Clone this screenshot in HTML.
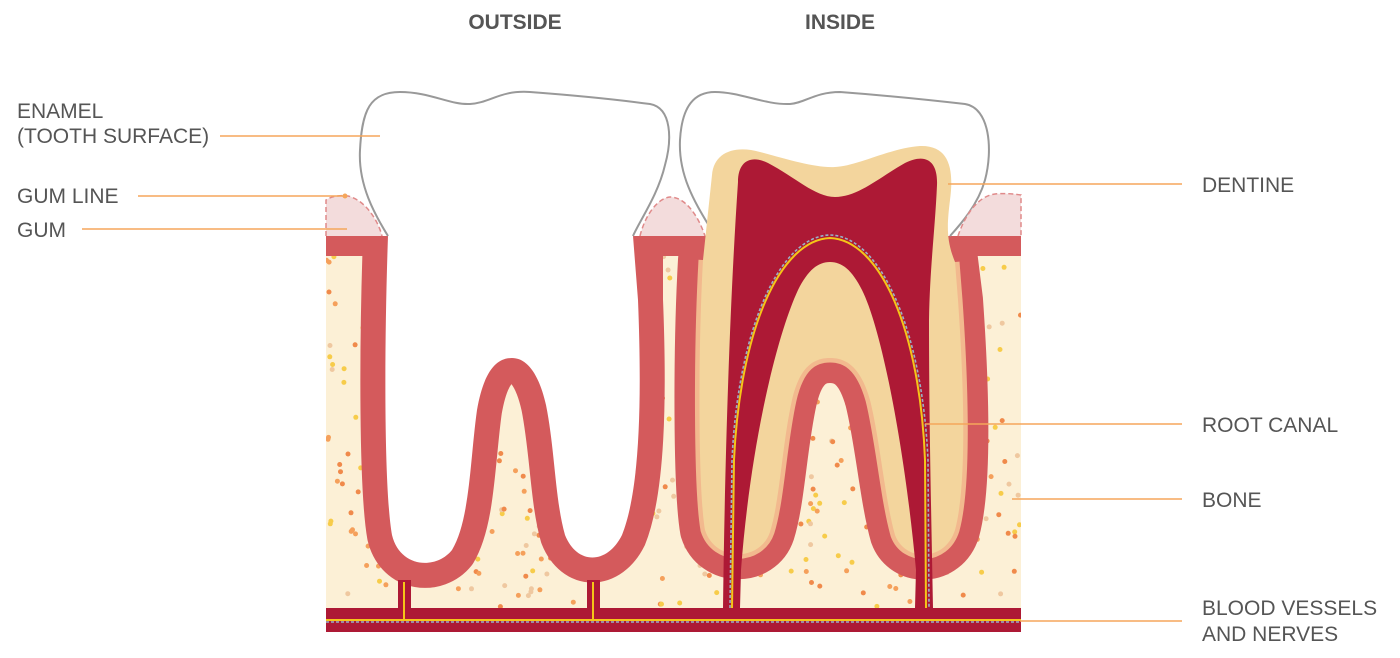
<!DOCTYPE html>
<html><head><meta charset="utf-8">
<style>
html,body{margin:0;padding:0;background:#fff;}
svg{display:block;}
text{font-family:"Liberation Sans",Arial,sans-serif;fill:#555;font-size:21px;}
</style></head><body>
<svg id="s" width="1400" height="658" viewBox="0 0 1400 658" xmlns="http://www.w3.org/2000/svg">
<defs>
<clipPath id="below"><rect x="326" y="236" width="695" height="400"/></clipPath>
<clipPath id="bone"><rect x="326" y="236" width="695" height="372"/></clipPath>
</defs>
<text x="515" y="29" text-anchor="middle" font-weight="bold">OUTSIDE</text>
<text x="840" y="29" text-anchor="middle" font-weight="bold">INSIDE</text>
<text x="17" y="118">ENAMEL</text>
<text x="17" y="143">(TOOTH SURFACE)</text>
<text x="17" y="203">GUM LINE</text>
<text x="17" y="237">GUM</text>
<text x="1202" y="192">DENTINE</text>
<text x="1202" y="432">ROOT CANAL</text>
<text x="1202" y="507">BONE</text>
<text x="1202" y="615">BLOOD VESSELS</text>
<text x="1202" y="641">AND NERVES</text>

<rect x="326" y="236" width="695" height="372" fill="#fcf0d6"/>
<g id="dots" clip-path="url(#bone)"></g>
<rect x="326" y="236" width="695" height="20" fill="#d45a5c"/>

<g clip-path="url(#below)" fill="none" stroke="#d45a5c" stroke-width="50" stroke-linejoin="round">
<path d="M388,236 L638,236 L638,300 C642,400 640,490 622,535 C607,565 577,565 565,535 C555,500 555,450 546,405 C538,370 525,358 512,358 C497,358 484,370 477,410 C470,460 470,520 452,550 C436,570 400,568 392,535 C384,490 384,350 388,236 Z"/>
<path d="M712,236 L703,260 C698,350 698,490 705,530 C715,562 760,562 770,532 C780,500 782,445 792,400 C800,365 815,358 830,358 C845,358 860,365 870,400 C880,440 885,500 895,535 C905,562 945,562 955,530 C966,490 965,400 958,300 L950,236 Z"/>
</g>
<path d="M703,260 C698,350 698,490 705,530 C715,562 760,562 770,532 C780,500 782,445 792,400 C800,365 815,358 830,358 C845,358 860,365 870,400 C880,440 885,500 895,535 C905,562 945,562 955,530 C966,490 965,400 958,300 L955,262" fill="none" stroke="#f2b98e" stroke-width="9"/>

<path d="M388,236 C375,215 358,185 360,150 C362,110 370,92 400,92 C430,92 450,105 470,104 C490,103 500,90 530,92 C570,95 620,100 650,104 C672,108 672,140 665,165 C658,195 640,220 633,236 L638,300 C642,400 640,490 622,535 C607,565 577,565 565,535 C555,500 555,450 546,405 C538,370 525,358 512,358 C497,358 484,370 477,410 C470,460 470,520 452,550 C436,570 400,568 392,535 C384,490 384,350 388,236 Z" fill="#fff"/>
<path d="M388,236 C375,215 358,185 360,150 C362,110 370,92 400,92 C430,92 450,105 470,104 C490,103 500,90 530,92 C570,95 620,100 650,104 C672,108 672,140 665,165 C658,195 640,220 633,236" fill="none" stroke="#999" stroke-width="2"/>

<path d="M715,236 C700,210 678,180 680,140 C682,105 695,92 715,92 C740,92 765,105 790,104 C805,103 815,92 840,92 C880,95 930,100 965,104 C990,108 993,150 985,180 C978,205 960,225 950,236 Z" fill="#fff"/>
<path d="M715,236 C700,210 678,180 680,140 C682,105 695,92 715,92 C740,92 765,105 790,104 C805,103 815,92 840,92 C880,95 930,100 965,104 C990,108 993,150 985,180 C978,205 960,225 950,236" fill="none" stroke="#999" stroke-width="2"/>

<path d="M703,260 L712,175 C714,152 735,145 760,152 C790,160 815,168 835,167 C858,166 890,148 920,146 C950,145 954,170 950,200 C947,225 946,240 955,262 L958,300 C965,400 966,490 955,530 C945,562 905,562 895,535 C885,500 880,440 870,400 C860,365 845,358 830,358 C815,358 800,365 792,400 C782,445 780,500 770,532 C760,562 715,562 705,530 C698,490 698,350 703,260 Z" fill="#f3d59d"/>

<path d="M738,182 C738,160 752,155 768,163 C795,177 815,197 835,197 C858,197 880,177 905,163 C925,153 938,160 937,185 C935,230 930,265 929,320 C929,420 931,500 933,608 L915,608 L916,570 C905,450 882,330 862,290 C852,270 842,262 830,262 C818,262 808,270 798,290 C775,340 750,450 741,570 L740,608 L723,608 C725,450 730,300 738,182 Z" fill="#ad1935"/>

<g fill="#f3dcdc" stroke="#e08a8a" stroke-width="1.5" stroke-dasharray="5,3">
<path d="M326,236 L326,200 C332,196 340,195 348,196 C365,200 378,220 382,236"/>
<path d="M640,236 C645,215 658,198 670,197 C685,197 698,215 705,236"/>
<path d="M958,236 C965,215 978,196 995,194 C1005,193 1015,194 1021,195 L1021,236"/>
</g>

<rect x="326" y="608" width="695" height="24" fill="#ad1935"/>
<rect x="398" y="580" width="13" height="30" fill="#ad1935"/>
<rect x="587" y="580" width="13" height="30" fill="#ad1935"/>
<g fill="none">
<path d="M732,608 L734,460 C740,330 780,240 830,238 C880,240 920,330 925,460 L926,608" stroke="#f5c518" stroke-width="2"/>
<path d="M730,608 L732,460 C738,328 780,236 830,235 C880,236 922,328 928,460 L929,608" stroke="#9ab0c8" stroke-width="1.6" stroke-dasharray="3,2"/>
<path d="M326,620 L1021,620" stroke="#f5c518" stroke-width="2"/>
<path d="M326,622 L1021,622" stroke="#9ab0c8" stroke-width="1.5" stroke-dasharray="3,2"/>
<path d="M404,582 L404,620 M593,582 L593,620" stroke="#f5c518" stroke-width="2"/>
</g>

<g stroke="#f5a65b" stroke-width="1.6">
<line x1="220" y1="136" x2="380" y2="136"/>
<line x1="138" y1="196" x2="345" y2="196"/>
<line x1="82" y1="229" x2="347" y2="229"/>
<line x1="948" y1="184" x2="1182" y2="184"/>
<line x1="925" y1="424" x2="1182" y2="424"/>
<line x1="1012" y1="499" x2="1182" y2="499"/>
<line x1="1020" y1="621" x2="1182" y2="621"/>
</g>
<circle cx="345" cy="196" r="2.5" fill="#f5a65b"/>
</svg>
<script>
(function(){
var g=document.getElementById('dots'),seed=12345;
function r(){seed=(seed*1103515245+12345)&0x7fffffff;return seed/0x7fffffff;}
var cols=['#f5a05b','#f7cc4a','#efc8a0','#f08a4b'];
var h='';
for(var i=0;i<520;i++){
var x=326+r()*695,y=256+r()*352,c=cols[Math.floor(r()*4)];
h+='<circle cx="'+x.toFixed(1)+'" cy="'+y.toFixed(1)+'" r="2.5" fill="'+c+'"/>';
}
g.innerHTML=h;
})();
</script>
</body></html>
